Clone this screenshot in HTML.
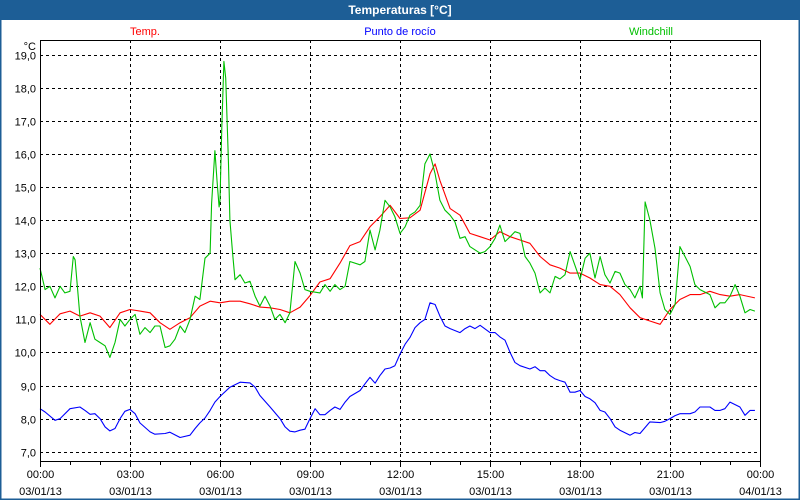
<!DOCTYPE html>
<html><head><meta charset="utf-8">
<style>
html,body{margin:0;padding:0;background:#fff;}
#wrap{position:relative;width:800px;height:500px;overflow:hidden;font-family:"Liberation Sans",Tahoma,sans-serif;}
svg text{font-family:"Liberation Sans",Tahoma,sans-serif;font-size:11px;}
</style></head>
<body>
<div id="wrap">
<svg id="chart" width="800" height="500" xmlns="http://www.w3.org/2000/svg">
  <rect x="0" y="0" width="800" height="500" fill="#fff"/>
  <rect x="0" y="0" width="800" height="20" fill="#1d5e96"/>
  <text x="400" y="14" text-anchor="middle" fill="#fff" font-weight="bold" style="font-size:12px">Temperaturas [°C]</text>
  <rect x="0.5" y="0.5" width="799" height="499" fill="none" stroke="#1d5e96" stroke-width="2"/>
  <text x="145" y="35" text-anchor="middle" fill="#ff0000">Temp.</text>
  <text x="400" y="35" text-anchor="middle" fill="#0000ff">Punto de rocío</text>
  <text x="651" y="35" text-anchor="middle" fill="#00c000">Windchill</text>
  <text x="36" y="50" text-anchor="end" fill="#000">°C</text>
  <g id="grid"></g>
  <g id="series"></g>
  <g id="axes"></g>
</svg>
</div>
<script>
const yTicks = [7,8,9,10,11,12,13,14,15,16,17,18,19];
const xTickHours = [0,3,6,9,12,15,18,21,24];
const xTickTimes = ["00:00","03:00","06:00","09:00","12:00","15:00","18:00","21:00","00:00"];
const xTickDates = ["03/01/13","03/01/13","03/01/13","03/01/13","03/01/13","03/01/13","03/01/13","03/01/13","04/01/13"];

const tempTimes = [0,0.33,0.67,1,1.33,1.67,2,2.33,2.67,3,3.33,3.67,4,4.33,4.67,5,5.33,5.67,
 6,6.33,6.67,7,7.33,7.67,8,8.33,8.67,9,9.33,9.67,10,10.33,10.67,11,11.33,11.67,
 12,12.33,12.67,13,13.17,13.33,13.67,14,14.33,14.67,15,15.33,15.67,16,16.33,16.67,17,17.33,17.67,
 18,18.33,18.67,19,19.33,19.67,20,20.33,20.67,21,21.33,21.67,22,22.33,22.67,23,23.33,23.83];
const tempValues = [11.15,10.85,11.17,11.25,11.1,11.2,11.1,10.75,11.2,11.3,11.25,11.2,10.9,10.7,10.9,11.05,11.4,11.55,
 11.5,11.55,11.55,11.47,11.37,11.35,11.3,11.2,11.37,11.72,12.13,12.23,12.7,13.23,13.35,13.8,14.1,14.45,
 14.05,14.07,14.3,15.4,15.7,15.2,14.35,14.15,13.6,13.5,13.4,13.65,13.5,13.4,13.3,12.9,12.65,12.55,12.4,
 12.4,12.25,12.05,12.0,11.75,11.35,11.05,10.95,10.85,11.3,11.6,11.75,11.75,11.85,11.75,11.7,11.75,11.65];

const dewTimes = [0,0.17,0.5,0.67,1,1.33,1.5,1.67,1.83,2,2.17,2.33,2.5,2.67,2.83,3,3.17,3.33,3.67,3.83,4.17,4.33,4.67,5,5.17,5.33,5.5,5.67,5.83,6,
 6.33,6.67,7,7.17,7.33,7.67,8,8.17,8.33,8.5,8.67,8.83,9,9.17,9.33,9.5,9.67,9.83,10,10.17,10.33,10.67,10.83,11,11.17,11.33,11.5,11.67,11.83,12,
 12.17,12.33,12.5,12.67,12.83,13,13.17,13.33,13.5,13.67,14,14.17,14.33,14.5,14.67,15,15.17,15.33,15.5,15.67,15.83,16,16.33,16.5,16.67,16.83,17,17.17,17.33,17.5,17.67,17.83,18,
 18.17,18.33,18.5,18.67,18.83,19,19.17,19.33,19.67,19.83,20,20.33,20.67,20.83,21,21.17,21.33,21.67,21.83,22,22.33,22.5,22.67,22.83,23,23.33,23.5,23.67,23.83];
const dewValues = [8.3,8.2,7.95,8.0,8.3,8.35,8.25,8.13,8.15,8.0,7.75,7.63,7.7,8.0,8.22,8.28,8.15,7.87,7.6,7.53,7.55,7.59,7.43,7.5,7.7,7.87,8.02,8.25,8.5,8.67,
 8.95,9.1,9.08,8.95,8.7,8.35,8.0,7.75,7.62,7.6,7.65,7.68,8.0,8.3,8.12,8.12,8.25,8.35,8.28,8.5,8.67,8.85,9.05,9.25,9.07,9.3,9.5,9.53,9.6,9.95,
 10.25,10.45,10.75,10.9,11.0,11.5,11.45,11.1,10.8,10.72,10.6,10.72,10.8,10.72,10.82,10.6,10.6,10.47,10.37,10.0,9.7,9.6,9.5,9.57,9.45,9.45,9.3,9.2,9.15,9.1,8.8,8.8,8.85,
 8.67,8.6,8.48,8.25,8.2,8.0,7.75,7.65,7.5,7.58,7.55,7.9,7.88,7.92,8.0,8.09,8.15,8.15,8.2,8.35,8.35,8.25,8.25,8.3,8.5,8.35,8.1,8.25,8.25];

const windTimes = [0,0.17,0.33,0.5,0.67,0.83,1,1.11,1.17,1.33,1.5,1.67,1.83,2,2.17,2.33,2.5,2.67,2.83,3,3.17,3.33,3.5,3.67,3.83,4,4.17,4.33,4.5,4.67,4.83,5,5.17,5.33,5.5,5.67,5.72,5.83,5.9,5.97,6,6.06,6.13,6.19,6.28,6.33,6.42,
 6.5,6.67,6.83,7,7.17,7.33,7.5,7.67,7.83,8,8.17,8.33,8.5,8.67,8.83,9,9.33,9.5,9.67,9.83,10,10.17,10.33,10.67,10.83,11,11.17,11.33,11.5,11.67,11.83,12,12.17,12.33,
 12.5,12.67,12.83,13,13.17,13.33,13.5,13.67,13.83,14,14.17,14.33,14.67,14.83,15,15.17,15.33,15.5,15.67,15.83,16,16.17,16.33,16.5,16.67,16.83,17,17.17,17.33,17.5,17.67,18,18.17,18.33,
 18.5,18.67,18.83,19,19.17,19.33,19.5,19.67,19.83,20,20.08,20.17,20.33,20.5,20.67,20.83,21,21.17,21.33,21.67,21.83,22,22.33,22.5,22.67,22.83,23,23.17,23.33,23.5,23.67,23.83];
const windValues = [12.55,11.9,12.0,11.65,12.0,11.8,11.85,12.9,12.8,11.1,10.3,10.9,10.4,10.3,10.2,9.85,10.3,11.0,10.8,11.0,11.15,10.55,10.75,10.6,10.8,10.8,10.15,10.2,10.4,10.8,10.6,11.0,11.7,11.6,12.85,13.0,14.5,16.1,15.2,14.4,14.6,16.8,18.8,18.3,15.8,14.0,13.0,
 12.2,12.35,12.1,12.15,11.7,11.4,11.7,11.4,11.0,11.15,10.9,11.2,12.75,12.4,11.9,11.85,11.8,12.05,11.85,12.05,11.9,12.0,12.75,12.65,12.75,13.7,13.1,13.7,14.6,14.4,14.1,13.6,13.8,14.15,
 14.25,14.45,15.7,16.0,15.4,14.6,14.3,14.15,13.95,13.45,13.5,13.2,13.0,13.05,13.2,13.45,13.85,13.35,13.5,13.65,13.6,12.9,12.7,12.4,11.8,11.95,11.8,12.3,12.22,12.35,13.05,12.2,12.85,13.0,12.25,12.9,
 12.35,12.1,12.45,12.4,12.05,11.9,11.65,12.0,11.65,14.55,14.0,13.15,11.8,11.3,11.15,11.45,13.2,12.6,12.05,11.9,11.75,11.35,11.5,11.5,11.7,12.05,11.7,11.2,11.3,11.25,11.9,11.5];

const NS = "http://www.w3.org/2000/svg";
const PL = 40, PR = 760, PT = 40, PB = 461;
const Y0 = 451.7, YPER = 33.08;
function xScale(h){ return PL + h * (PR - PL) / 24; }
function yScale(v){ return Y0 - (v - 7) * YPER; }
function mk(tag, attrs, parent){
  const e = document.createElementNS(NS, tag);
  for (const k in attrs) e.setAttribute(k, attrs[k]);
  parent.appendChild(e);
  return e;
}
const grid = document.getElementById('grid');
const axes = document.getElementById('axes');
const series = document.getElementById('series');

yTicks.forEach(v => {
  const y = Math.round(yScale(v)) + 0.5;
  const l = mk('line', {x1:PL, x2:PR, y1:y, y2:y, stroke:'#000', 'stroke-width':1, 'stroke-dasharray':'3,3'}, grid);
  
  
  const t = mk('text', {x:36, y:y+4, 'text-anchor':'end', fill:'#000'}, axes);
  t.textContent = v.toFixed(1).replace('.', ',');
  
  
});
for (let h = 0; h <= 24; h++) {
  const x = Math.round(xScale(h)) + 0.5;
  const major = h % 3 === 0;
  const tk = mk('line', {x1:x, x2:x, y1:PB, y2:PB + (major ? 6 : 4), stroke:'#000', 'stroke-width':1}, axes);
  
  
}
xTickHours.forEach((h, i) => {
  const x = Math.round(xScale(h)) + 0.5;
  if (h > 0 && h < 24) {
    const l = mk('line', {x1:x, x2:x, y1:PT, y2:PB, stroke:'#000', 'stroke-width':1, 'stroke-dasharray':'3,3'}, grid);
    
    
  }
  const t1 = mk('text', {x:x, y:478, 'text-anchor':'middle', fill:'#000'}, axes);
  t1.textContent = xTickTimes[i];
  
  
  const t2 = mk('text', {x:x, y:495, 'text-anchor':'middle', fill:'#000'}, axes);
  t2.textContent = xTickDates[i];
  
  
});
const frame = mk('rect', {x:PL+0.5, y:PT+0.5, width:PR-PL, height:PB-PT, fill:'none', stroke:'#000', 'stroke-width':1}, axes);



function drawLine(times, vals, color, name){
  const pts = times.map((t, i) => xScale(t).toFixed(1) + ',' + yScale(vals[i]).toFixed(1)).join(' ');
  const p = mk('polyline', {points:pts, fill:'none', stroke:color, 'stroke-width':1.1, 'stroke-linejoin':'round'}, series);
  
  
}
drawLine(dewTimes, dewValues, '#0000ff', 'dew-point-line');
drawLine(tempTimes, tempValues, '#ff0000', 'temp-line');
drawLine(windTimes, windValues, '#00c000', 'windchill-line');
</script>
</body></html>
